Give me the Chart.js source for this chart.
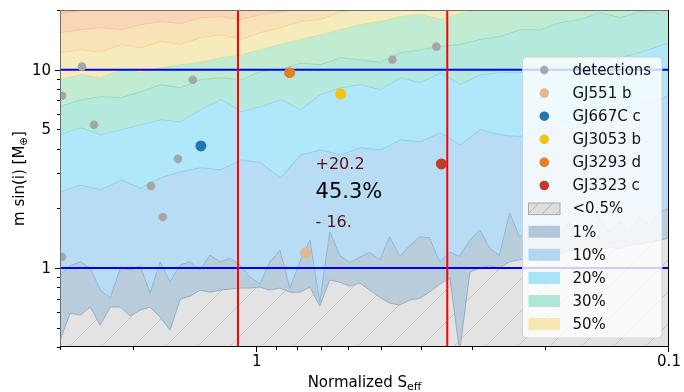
<!DOCTYPE html>
<html><head><meta charset="utf-8">
<script src="https://cdn.jsdelivr.net/npm/chart.js@4.4.1/dist/chart.umd.min.js"></script>
<style>html,body{margin:0;padding:0;background:#fff;}canvas{display:block;}</style>
</head><body>
<canvas id="c" width="684" height="392"></canvas>
<script>
// ---------- data ----------
// coarse grid (upper contour levels)
const sEff = [3.0, 2.67, 2.39, 2.13, 1.91, 1.71, 1.53, 1.37, 1.22, 1.09, 0.978, 0.875, 0.782, 0.700, 0.626, 0.560, 0.501, 0.448, 0.401, 0.358, 0.321, 0.287, 0.257, 0.230, 0.205, 0.184, 0.164, 0.147, 0.131, 0.1175, 0.105, 0.1];
// fine grid (lower contour levels)
const sEffFine = [3.0, 2.832, 2.678, 2.533, 2.396, 2.266, 2.143, 2.027, 1.917, 1.813, 1.715, 1.622, 1.534, 1.451, 1.372, 1.298, 1.227, 1.160, 1.097, 1.038, 0.982, 0.929, 0.878, 0.831, 0.786, 0.743, 0.703, 0.665, 0.629, 0.594, 0.562, 0.532, 0.503, 0.476, 0.450, 0.425, 0.402, 0.381, 0.360, 0.340, 0.322, 0.304, 0.288, 0.272, 0.258, 0.2435, 0.2304, 0.2180, 0.2061, 0.1949, 0.1843, 0.1743, 0.1649, 0.1560, 0.1475, 0.1395, 0.1319, 0.1248, 0.1180, 0.1116, 0.1056, 0.1];

const lvlA = [19.2, 19.9, 20.6, 24];
const lvlB = [15.4, 15.9, 16.3, 15.9, 16.9, 17.5, 17.1, 18.3, 18.5, 17.9, 19.0, 19.6, 20.1, 21.3];
const lvlC = [12.2, 12.6, 12.3, 13.4, 12.9, 13.9, 13.4, 14.5, 15.0, 14.2, 15.4, 16.3, 17.5, 17.9, 19.6, 20.1, 21.3];
const lvlD = [8.90, 9.44, 9.11, 10.0, 9.66, 10.2, 10.6, 10.9, 11.5, 11.9, 12.6, 13.4, 14.2, 15.0, 15.9, 16.9, 17.5, 18.5, 19.0, 17.9, 19.2, 20.1, 21.3];
const lvl30 = [6.51, 7.06, 7.31, 7.23, 7.75, 8.40, 8.11, 8.90, 9.11, 8.90, 9.77, 10.0, 10.8, 10.6, 11.5, 11.2, 10.9, 12.2, 12.6, 13.1, 13.4, 14.2, 14.7, 15.9, 15.9, 17.3, 17.9, 19.4, 18.3, 19.6, 19.2, 20.1];
const lvl20 = [4.70, 5.09, 4.70, 4.98, 5.27, 5.59, 5.46, 6.28, 7.06, 6.14, 6.51, 7.06, 6.28, 7.48, 8.11, 8.40, 7.93, 9.11, 8.59, 9.66, 8.40, 9.44, 9.66, 9.66, 10.0, 10.2, 10.6, 11.2, 11.5, 12.2, 13.2, 13.7];
const lvl10 = [2.42, 2.62, 2.48, 2.78, 2.53, 2.85, 3.06, 3.20, 3.13, 3.51, 3.39, 2.85, 3.72, 3.94, 3.72, 4.04, 3.94, 4.43, 4.33, 4.81, 4.18, 4.98, 4.70, 4.59, 5.27, 5.59, 5.27, 5.93, 6.28, 6.66, 7.06, 7.48];
const lvl1 = [0.922, 1.026, 1.075, 1.0, 0.774, 0.705, 1.0, 0.977, 1.026, 0.747,
  1.075, 0.850, 1.038, 1.075, 0.977, 1.160, 1.075, 1.121, 1.038, 0.901,
  0.830, 1.075, 1.23, 0.793, 1.075, 1.38, 0.674, 1.524, 1.160, 1.062,
  1.134, 1.202, 1.10, 1.438, 1.147, 1.302, 1.438, 1.421, 1.075, 1.202,
  1.147, 1.38, 1.56, 1.257, 1.160, 1.893, 1.438, 1.595, 1.348, 1.651,
  1.472, 1.710, 1.421, 1.595, 1.75, 1.524, 1.710, 1.489, 1.828, 1.632,
  1.915, 2.005];
const lvl05 = [0.433, 0.593, 0.579, 0.636, 0.515, 0.636, 0.636, 0.573, 0.614, 0.636,
  0.566, 0.486, 0.697, 0.722, 0.774, 0.756, 0.774, 0.784, 0.793, 0.793,
  0.802, 0.774, 0.793, 0.756, 0.756, 0.802, 0.643, 0.870, 0.850, 0.811,
  0.840, 0.774, 0.713, 0.666, 0.651, 0.690, 0.705, 0.756, 0.830, 0.890,
  0.38, 0.955, 1.0, 1.026, 1.0, 1.075, 1.10, 1.134, 1.121, 1.160,
  1.174, 1.23, 1.23, 1.202, 1.23, 1.272, 1.257, 1.302, 1.317, 1.348,
  1.38, 1.421];

const detX = [2.966, 2.653, 2.481, 1.806, 1.553, 1.429, 1.689, 2.966, 0.4686, 0.3666];
const detY = [7.39, 10.36, 5.28, 2.595, 3.553, 8.90, 1.81, 1.137, 11.23, 13.07];

const planetNames = ['GJ551 b', 'GJ667C c', 'GJ3053 b', 'GJ3293 d', 'GJ3323 c'];
const planetX = [0.761, 1.366, 0.626, 0.832, 0.3565];
const planetY = [1.19, 4.13, 7.56, 9.66, 3.35];
const planetColors = ['#e0b98c', '#1f77b4', '#f1c40f', '#e67e22', '#c0392b'];

const sEffLines = [1.11, 0.345];
const massLines = [1, 10];

const bandLabels = ['<0.5%', '1%', '10%', '20%', '30%', '50%'];

const annX = 0.72;
const annTexts = ['+20.2', '45.3%', '- 16.'];
const annY = [3.31, 2.41, 1.70];

const yTickLabels = [[10, '10'], [5, '5'], [1, '1']];
const xTickLabels = [[1, '1'], [0.1, '0.1']];
const yMajor = [1, 10];
const yMinor = [0.4, 0.5, 0.6, 0.7, 0.8, 0.9, 2, 3, 4, 5, 6, 7, 8, 9, 20];
const xMajor = [1, 0.1];
const xMinor = [3, 2, 0.9, 0.8, 0.7, 0.6, 0.5, 0.4, 0.3, 0.2];

// ---------- helpers ----------
const canvas = document.getElementById('c');
const mainCtx = canvas.getContext('2d');
function hatch(bg, line, step) {
  const p = document.createElement('canvas');
  p.width = step; p.height = step;
  const g = p.getContext('2d');
  g.fillStyle = bg; g.fillRect(0, 0, step, step);
  g.strokeStyle = line; g.lineWidth = 1;
  g.beginPath();
  g.moveTo(0, step); g.lineTo(step, 0);
  g.moveTo(-2, 2); g.lineTo(2, -2);
  g.moveTo(step - 2, step + 2); g.lineTo(step + 2, step - 2);
  g.stroke();
  return mainCtx.createPattern(p, 'repeat');
}
const hatchFill = hatch('#e3e3e3', '#c4c4c4', 32);
const hatchLegend = hatch('#dedede', '#b8b8b8', 14);

function pts(xs, ys) { return ys.map((y, i) => ({ x: xs[i], y })); }
function band(xs, ys, stroke, fillColor, mode) {
  return { type: 'line', data: pts(xs, ys), borderColor: stroke, borderWidth: 1,
    backgroundColor: fillColor, fill: mode, pointRadius: 0, tension: 0 };
}

const datasets = [];
planetNames.forEach((n, i) => datasets.push({ type: 'scatter', label: n,
  data: [{ x: planetX[i], y: planetY[i] }], backgroundColor: planetColors[i],
  borderWidth: 0, pointRadius: 5.5, pointHoverRadius: 5.5 }));
datasets.push({ type: 'scatter', label: 'detections', data: pts(detX, detY),
  backgroundColor: '#a6a6a6', borderWidth: 0, pointRadius: 4.3 });
sEffLines.forEach(v => datasets.push({ type: 'line', data: [{ x: v, y: 0.4 }, { x: v, y: 20 }],
  borderColor: '#ff0000', borderWidth: 2, pointRadius: 0, fill: false }));
massLines.forEach(v => datasets.push({ type: 'line', data: [{ x: 3, y: v }, { x: 0.1, y: v }],
  borderColor: '#0000ff', borderWidth: 2, pointRadius: 0, fill: false }));
datasets.push(band(sEff, lvlA, '#f0b898', '#f4caac', 'end'));
datasets.push(band(sEff, lvlB, '#f4c8a0', '#f8d6b6', 'end'));
datasets.push(band(sEff, lvlC, '#f2d696', '#f8e2b8', 'end'));
datasets.push(band(sEff, lvlD, '#cfe4a4', '#f6ebbd', 'end'));
datasets.push(band(sEff, lvl30, '#98dcb8', '#c2ecd2', 'end'));
datasets.push(band(sEff, lvl20, '#8cdcdc', '#b6e9dd', 'end'));
datasets.push(band(sEff, lvl10, '#8ccff2', '#b1e7fb', 'end'));
datasets.push(band(sEffFine, lvl1, '#8ab8dc', '#b9dcf5', 'end'));
datasets.push(band(sEffFine, lvl05, '#98acbc', '#b9ccdb', 'end'));
datasets.push(band(sEffFine, lvl05, 'rgba(0,0,0,0)', hatchFill, 'start'));

const FONT = '"DejaVu Sans", "Liberation Sans", sans-serif';

const decor = {
  id: 'decor',
  afterDraw(chart) {
    const ctx = chart.ctx, ca = chart.chartArea, xs = chart.scales.x, ys = chart.scales.y;
    ctx.save();
    // annotations
    const ax = xs.getPixelForValue(annX);
    ctx.textAlign = 'left'; ctx.textBaseline = 'middle';
    ctx.fillStyle = '#5a1010'; ctx.font = '16px ' + FONT;
    ctx.fillText(annTexts[0], ax, ys.getPixelForValue(annY[0]));
    ctx.fillStyle = '#000'; ctx.font = '21px ' + FONT;
    ctx.fillText(annTexts[1], ax, ys.getPixelForValue(annY[1]));
    ctx.fillStyle = '#5a1010'; ctx.font = '16px ' + FONT;
    ctx.fillText(annTexts[2], ax, ys.getPixelForValue(annY[2]));

    // spines
    ctx.lineWidth = 1;
    ctx.strokeStyle = '#6e6e6e';
    ctx.beginPath();
    ctx.moveTo(ca.left + 0.5, ca.bottom); ctx.lineTo(ca.left + 0.5, ca.top + 0.5);
    ctx.lineTo(ca.right, ca.top + 0.5);
    ctx.stroke();
    ctx.strokeStyle = '#000';
    ctx.beginPath();
    ctx.moveTo(ca.right - 0.5, ca.top); ctx.lineTo(ca.right - 0.5, ca.bottom - 0.5);
    ctx.lineTo(ca.left, ca.bottom - 0.5);
    ctx.stroke();

    // ticks
    ctx.strokeStyle = '#000';
    ctx.beginPath();
    yMajor.forEach(v => { const p = Math.round(ys.getPixelForValue(v)) + 0.5; ctx.moveTo(ca.left, p); ctx.lineTo(ca.left - 5, p); });
    yMinor.forEach(v => { const p = Math.round(ys.getPixelForValue(v)) + 0.5; ctx.moveTo(ca.left, p); ctx.lineTo(ca.left - 3, p); });
    xMajor.forEach(v => { const p = Math.round(xs.getPixelForValue(v)) - 0.5; ctx.moveTo(p, ca.bottom); ctx.lineTo(p, ca.bottom + 5); });
    xMinor.forEach(v => { const p = Math.round(xs.getPixelForValue(v)) + 0.5; ctx.moveTo(p, ca.bottom); ctx.lineTo(p, ca.bottom + 3); });
    ctx.stroke();

    // tick labels
    ctx.fillStyle = '#000'; ctx.font = '15px ' + FONT;
    ctx.textAlign = 'right'; ctx.textBaseline = 'middle';
    yTickLabels.forEach(([v, t]) => ctx.fillText(t, ca.left - 9, ys.getPixelForValue(v) + 1));
    ctx.textAlign = 'center'; ctx.textBaseline = 'top';
    xTickLabels.forEach(([v, t]) => ctx.fillText(t, xs.getPixelForValue(v), ca.bottom + 8));

    // axis titles
    ctx.textBaseline = 'alphabetic'; ctx.textAlign = 'left';
    const xt1 = 'Normalized S', xt2 = 'eff';
    ctx.font = '15px ' + FONT; const w1 = ctx.measureText(xt1).width;
    ctx.font = '11px ' + FONT; const w2 = ctx.measureText(xt2).width;
    const cx = (ca.left + ca.right) / 2;
    let sx = cx - (w1 + w2) / 2;
    ctx.font = '15px ' + FONT; ctx.fillText(xt1, sx, 387);
    ctx.font = '11px ' + FONT; ctx.fillText(xt2, sx + w1, 390);

    ctx.save();
    ctx.translate(24, (ca.top + ca.bottom) / 2);
    ctx.rotate(-Math.PI / 2);
    const yt1 = 'm sin(i) [M', yt2 = '\u2295', yt3 = ']';
    ctx.font = '15px ' + FONT; const a1 = ctx.measureText(yt1).width, a3 = ctx.measureText(yt3).width;
    ctx.font = '10.5px ' + FONT; const a2 = ctx.measureText(yt2).width;
    let ty = -(a1 + a2 + a3) / 2;
    ctx.font = '15px ' + FONT; ctx.fillText(yt1, ty, 0);
    ctx.font = '10.5px ' + FONT; ctx.fillText(yt2, ty + a1, 3);
    ctx.font = '15px ' + FONT; ctx.fillText(yt3, ty + a1 + a2, 0);
    ctx.restore();

    // legend
    const L = { x: 522.5, y: 57, w: 139.5, h: 281, r: 4 };
    ctx.beginPath();
    ctx.moveTo(L.x + L.r, L.y);
    ctx.arcTo(L.x + L.w, L.y, L.x + L.w, L.y + L.h, L.r);
    ctx.arcTo(L.x + L.w, L.y + L.h, L.x, L.y + L.h, L.r);
    ctx.arcTo(L.x, L.y + L.h, L.x, L.y, L.r);
    ctx.arcTo(L.x, L.y, L.x + L.w, L.y, L.r);
    ctx.closePath();
    ctx.fillStyle = 'rgba(255,255,255,0.8)'; ctx.fill();
    ctx.strokeStyle = 'rgba(204,204,204,0.8)'; ctx.lineWidth = 1; ctx.stroke();

    const rowY = i => 70 + i * 23.1;
    const items = [{ kind: 'dot', color: '#a6a6a6', r: 4.2, label: 'detections' }];
    planetNames.forEach((n, i) => items.push({ kind: 'dot', color: planetColors[i], r: 4.8, label: n }));
    const patchColors = [hatchLegend, '#b3c7d8', '#b0d6f2', '#a9e3f8', '#b0e6d8', '#f6e6b2'];
    bandLabels.forEach((b, i) => items.push({ kind: 'patch', color: patchColors[i], label: b, edge: i === 0 }));
    ctx.font = '15px ' + FONT; ctx.textAlign = 'left'; ctx.textBaseline = 'middle';
    items.forEach((it, i) => {
      const y = rowY(i);
      if (it.kind === 'dot') {
        ctx.beginPath(); ctx.arc(544.3, y, it.r, 0, Math.PI * 2);
        ctx.fillStyle = it.color; ctx.fill();
      } else {
        ctx.fillStyle = it.color; ctx.fillRect(528.5, y - 6, 31.5, 12);
        if (it.edge) { ctx.strokeStyle = '#a8a8a8'; ctx.strokeRect(528.5, y - 5.5, 31.5, 11.5); }
      }
      ctx.fillStyle = '#111';
      ctx.fillText(it.label, 572.5, y + 1);
    });
    ctx.restore();
  }
};

new Chart(canvas, {
  type: 'line',
  data: { datasets },
  options: {
    responsive: false, animation: false, devicePixelRatio: 1,
    layout: { padding: { left: 60, right: 15, top: 10, bottom: 45 } },
    scales: {
      x: { type: 'logarithmic', reverse: true, min: 0.1, max: 3.0, display: false },
      y: { type: 'logarithmic', min: 0.4, max: 20, display: false }
    },
    plugins: { legend: { display: false }, tooltip: { enabled: false } },
    events: []
  },
  plugins: [decor]
});
</script>
</body></html>
